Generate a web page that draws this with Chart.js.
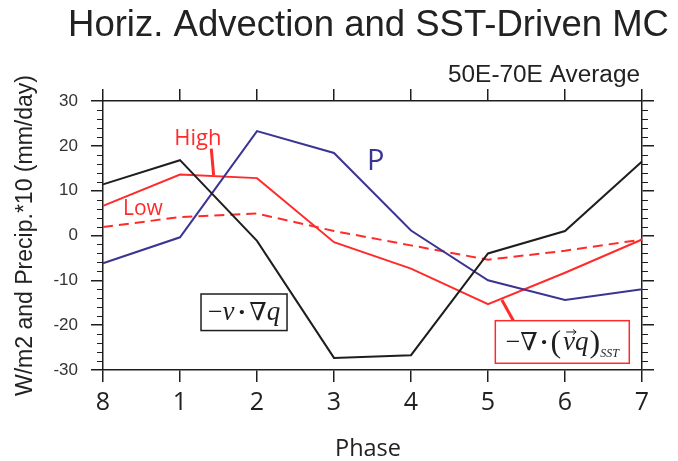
<!DOCTYPE html>
<html>
<head>
<meta charset="utf-8">
<script src="https://cdn.jsdelivr.net/npm/chart.js@4.4.0/dist/chart.umd.min.js"></script>
<style>
  html, body { margin: 0; padding: 0; background: #fff; }
  #grafico { display: block; }
</style>
</head>
<body>
<canvas id="grafico" width="678" height="461"></canvas>
<script>
// dati (media 50E-70E)
const phases = ["8", "1", "2", "3", "4", "5", "6", "7"];
const advection = [11.4, 16.8, -1.2, -27.3, -26.7, -4.0, 1.0, 16.5]; // -v.grad q
const precip = [-6.2, -0.4, 23.3, 18.4, 1.1, -10.0, -14.4, -12.0]; // P
const sstHigh = [6.6, 13.6, 12.8, -1.5, -7.4, -15.3, -8.3, -0.9];
const sstLow = [1.9, 4.1, 4.9, 1.0, -2.2, -5.4, -3.4, -0.9];
const yTicks = [-30, -20, -10, 0, 10, 20, 30];

const nero = "#1e1e1e";
const blu = "#3b3592";
const rosso = "#ff2b2b";

// testo stirato in orizzontale fino alla larghezza voluta
function testoLargo(ctx, testo, x, y, larghezza) {
  const w = ctx.measureText(testo).width;
  ctx.save();
  ctx.translate(x, y);
  ctx.scale(larghezza / w, 1);
  ctx.textAlign = "left";
  ctx.fillText(testo, 0, 0);
  ctx.restore();
}

// pezzi di testo con font diversi, centrati in un box
function testoRicco(ctx, pezzi, cx, baseline) {
  let tot = 0;
  pezzi.forEach(p => { ctx.font = p.font; p.w = ctx.measureText(p.t).width; tot += p.w + (p.gap || 0); });
  let x = cx - tot / 2;
  pezzi.forEach(p => {
    ctx.font = p.font;
    ctx.fillText(p.t, x, baseline + (p.dy || 0));
    p.x = x;
    x += p.w + (p.gap || 0);
  });
  return pezzi;
}

const decorazioni = {
  id: "decorazioni",
  beforeDraw(chart) {
    const ctx = chart.ctx;
    ctx.save();
    ctx.fillStyle = "#fff";
    ctx.fillRect(0, 0, chart.width, chart.height);
    ctx.restore();
  },
  afterDraw(chart) {
    const ctx = chart.ctx;
    const sx = chart.scales.x, sy = chart.scales.y;
    const area = chart.chartArea;
    const px = i => sx.getPixelForValue(i);
    const py = v => sy.getPixelForValue(v);
    ctx.save();

    // tacche minori ogni 2 unita'
    ctx.strokeStyle = nero;
    ctx.lineWidth = 1.2;
    for (let v = -30; v <= 30; v += 2) {
      if (v % 10 === 0) continue;
      const y = Math.round(py(v)) + 0.5;
      ctx.beginPath();
      ctx.moveTo(area.left - 6, y); ctx.lineTo(area.left, y);
      ctx.moveTo(area.right, y); ctx.lineTo(area.right + 6, y);
      ctx.stroke();
    }

    // titoli
    ctx.fillStyle = "#222";
    ctx.textBaseline = "alphabetic";
    ctx.font = "36px 'Liberation Sans'";
    testoLargo(ctx, "Horiz. Advection and SST-Driven MC", 68, 36, 601);
    ctx.font = "23px 'Liberation Sans'";
    testoLargo(ctx, "50E-70E Average", 448, 82, 192);
    ctx.font = "24px 'Open Sans'";
    testoLargo(ctx, "Phase", 335, 456, 66);

    ctx.save();
    ctx.translate(32, 396);
    ctx.rotate(-Math.PI / 2);
    ctx.font = "23px 'Liberation Sans'";
    testoLargo(ctx, "W/m2 and Precip.*10 (mm/day)", 0, 0, 321);
    ctx.restore();

    // etichette High / Low / P
    ctx.fillStyle = rosso;
    ctx.font = "22px 'Open Sans'";
    ctx.fillText("High", px(0.926), py(20.1));
    ctx.font = "21px 'Open Sans'";
    ctx.fillText("Low", px(0.26), py(4.5));
    ctx.strokeStyle = rosso;
    ctx.lineWidth = 3;
    ctx.beginPath();
    ctx.moveTo(px(1.406), py(19.4)); ctx.lineTo(px(1.437), py(13.4));
    ctx.stroke();
    ctx.fillStyle = blu;
    ctx.font = "29px 'Open Sans'";
    ctx.fillText("P", px(3.43), py(14.6));

    // box nero  -v . grad q
    const b1 = { l: px(1.273), r: px(2.39), t: py(-13.05), b: py(-21.2) };
    ctx.fillStyle = "#fff";
    ctx.fillRect(b1.l, b1.t, b1.r - b1.l, b1.b - b1.t);
    ctx.strokeStyle = nero;
    ctx.lineWidth = 1.5;
    ctx.strokeRect(b1.l, b1.t, b1.r - b1.l, b1.b - b1.t);
    ctx.fillStyle = nero;
    testoRicco(ctx, [
      { t: "\u2212", font: "26px 'Liberation Serif'" },
      { t: "v", font: "italic 27px 'Liberation Serif'", gap: 3 },
      { t: "\u00b7", font: "bold 26px 'Liberation Serif'", gap: 3 },
      { t: "\u2207", font: "25px 'DejaVu Serif'" },
      { t: "q", font: "italic 27px 'Liberation Serif'" }
    ], (b1.l + b1.r) / 2, (b1.t + b1.b) / 2 + 8);

    // freccia rossa e box  -div(vq)_SST
    ctx.strokeStyle = rosso;
    ctx.lineWidth = 3;
    ctx.beginPath();
    ctx.moveTo(px(5.18), py(-14.4)); ctx.lineTo(px(5.33), py(-19.0));
    ctx.stroke();
    const b2 = { l: px(5.095), r: px(6.835), t: py(-19.0), b: py(-28.5) };
    ctx.fillStyle = "#fff";
    ctx.fillRect(b2.l, b2.t, b2.r - b2.l, b2.b - b2.t);
    ctx.strokeStyle = rosso;
    ctx.lineWidth = 1.5;
    ctx.strokeRect(b2.l, b2.t, b2.r - b2.l, b2.b - b2.t);
    ctx.fillStyle = nero;
    const base2 = (b2.t + b2.b) / 2 + 8;
    const pz = testoRicco(ctx, [
      { t: "\u2212", font: "26px 'Liberation Serif'" },
      { t: "\u2207", font: "25px 'DejaVu Serif'", gap: 2 },
      { t: "\u00b7", font: "bold 26px 'Liberation Serif'", gap: 2 },
      { t: "(", font: "32px 'Liberation Serif'", dy: 2, gap: 2 },
      { t: "v", font: "italic 27px 'Liberation Serif'" },
      { t: "q", font: "italic 27px 'Liberation Serif'", gap: 1 },
      { t: ")", font: "32px 'Liberation Serif'", dy: 2 },
      { t: "SST", font: "italic 12px 'Liberation Serif'", dy: 7 }
    ], (b2.l + b2.r) / 2, base2);
    // freccetta sopra la v
    const v = pz[4];
    ctx.strokeStyle = nero;
    ctx.lineWidth = 1;
    const ya = base2 - 18;
    ctx.beginPath();
    ctx.moveTo(v.x + 3, ya); ctx.lineTo(v.x + v.w + 1, ya);
    ctx.moveTo(v.x + v.w - 2, ya - 2.5); ctx.lineTo(v.x + v.w + 1, ya); ctx.lineTo(v.x + v.w - 2, ya + 2.5);
    ctx.stroke();

    ctx.restore();
  }
};

const griglia = { drawOnChartArea: false, drawTicks: true, tickLength: 12, color: nero, lineWidth: 1.5 };
const bordo = { display: true, color: nero, width: 1.5 };
const tickY = s => { s.ticks = yTicks.map(v => ({ value: v })); };

const ctx = document.getElementById("grafico").getContext("2d");
const grafico = new Chart(ctx, {
  type: "line",
  data: {
    labels: phases,
    datasets: [
      { label: "-v.grad q", data: advection, borderColor: nero, borderWidth: 2 },
      { label: "P", data: precip, borderColor: blu, borderWidth: 2 },
      { label: "SST high", data: sstHigh, borderColor: rosso, borderWidth: 2 },
      { label: "SST low", data: sstLow, borderColor: rosso, borderWidth: 2, borderDash: [10, 6] }
    ]
  },
  options: {
    responsive: false,
    animation: false,
    devicePixelRatio: 1,
    layout: { padding: { left: 0, right: 22, top: 87, bottom: 0 } },
    elements: { point: { radius: 0 }, line: { tension: 0, fill: false } },
    plugins: { legend: { display: false }, title: { display: false }, tooltip: { enabled: false } },
    scales: {
      x: {
        type: "category", position: "bottom", offset: false,
        grid: griglia, border: bordo,
        ticks: { color: "#222", font: { family: "Open Sans", size: 25 }, padding: 6, maxRotation: 0, autoSkip: false },
        afterFit: s => { s.height = 91; }
      },
      xTop: {
        type: "category", position: "top", labels: phases, offset: false,
        grid: griglia, border: bordo,
        ticks: { display: false },
        afterFit: s => { s.height = 14; }
      },
      y: {
        type: "linear", position: "left", min: -30, max: 30,
        grid: griglia, border: bordo,
        afterBuildTicks: tickY,
        ticks: { color: "#333", font: { family: "Liberation Sans", size: 17 }, padding: 13 },
        afterFit: s => { s.width = 103; }
      },
      yRight: {
        type: "linear", position: "right", min: -30, max: 30,
        grid: griglia, border: bordo,
        afterBuildTicks: tickY,
        ticks: { display: false },
        afterFit: s => { s.width = 14; }
      }
    }
  },
  plugins: [decorazioni]
});
</script>
</body>
</html>
